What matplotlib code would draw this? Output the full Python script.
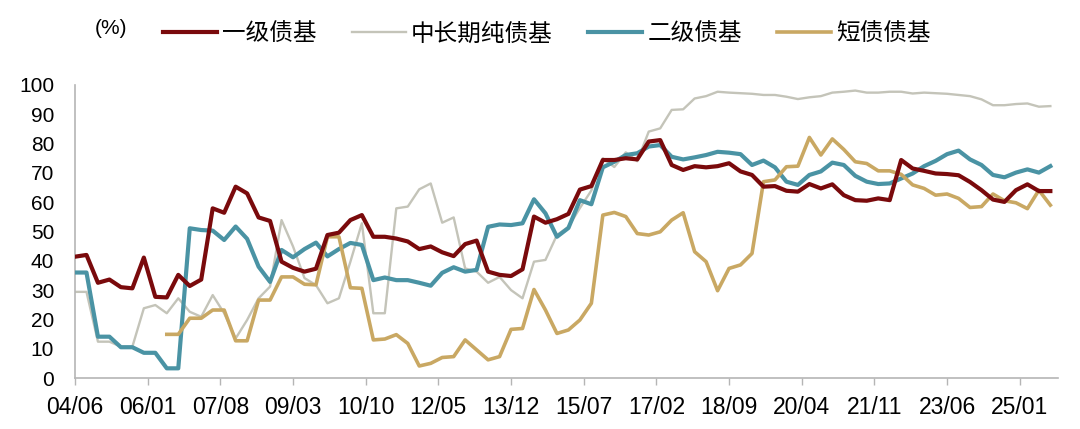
import matplotlib
matplotlib.use('Agg')
import matplotlib.pyplot as plt
import numpy as np

nan = np.nan

# quarterly observations, 2004/06 .. 2025/09 (months since 2004/06)
months = np.arange(0, 256, 3)

# 一级债基
primary = [41.4, 42, 32.5, 33.6, 31, 30.6, 41.1, 27.7, 27.5, 35.2,
           31.4, 33.6, 57.9, 56.4, 65.3, 63, 54.8, 53.6, 39.7, 37.6,
           36.3, 37.3, 48.8, 49.6, 53.9, 55.6, 48.2, 48.2, 47.6, 46.6,
           44, 44.9, 42.9, 41.6, 45.7, 46.9, 36.3, 35.2, 34.8, 37.1,
           55.1, 53, 54.2, 56, 64.3, 65.5, 74.4, 74.4, 75, 74.6,
           80.7, 81.2, 72.7, 71, 72.3, 71.9, 72.3, 73.3, 70.5, 69.3,
           65.3, 65.5, 63.9, 63.6, 66.2, 64.7, 66.1, 62.4, 60.7, 60.5,
           61.3, 60.7, 74.4, 71.5, 70.7, 69.8, 69.6, 69.2, 66.9, 64.1,
           60.9, 60.1, 64.1, 66.1, 63.8, 63.8]

# 中长期纯债基
mid_long = [29.4, 29.4, 12.4, 12.4, 10.7, 10.7, 23.8, 24.9, 22.1, 27.2,
            22.6, 20.9, 28.3, 22.1, 13.5, 19.8, 27.2, 31.2, 53.9, 44.9,
            34.1, 31.7, 25.5, 27.2, 39.7, 52.8, 22.1, 22.1, 57.9, 58.5,
            64.4, 66.4, 53, 54.8, 37.4, 36.3, 32.5, 34.5, 30, 27.2,
            39.7, 40.3, 48.8, 51.6, 58, 64, 75, 72, 77, 74,
            84.1, 85.2, 91.5, 91.7, 95.4, 96.2, 97.7, 97.4, 97.2, 97,
            96.6, 96.6, 96, 95.2, 95.8, 96.2, 97.4, 97.7, 98.1, 97.4,
            97.4, 97.7, 97.7, 97.1, 97.4, 97.2, 97, 96.6, 96.2, 95.1,
            93.1, 93.1, 93.5, 93.7, 92.6, 92.8]

# 二级债基
secondary = [36, 36, 14.1, 14.1, 10.5, 10.5, 8.6, 8.6, 3.3, 3.3,
             51.1, 50.5, 50.3, 47.1, 51.7, 47.5, 38, 32.8, 43.7, 41.2,
             44, 46.2, 41.5, 44, 46.1, 45.4, 33.4, 34.3, 33.4, 33.4,
             32.5, 31.5, 35.9, 37.8, 36.3, 36.9, 51.6, 52.4, 52.2, 52.8,
             61, 56.2, 48.2, 51.2, 60.7, 59.3, 71.9, 73.8, 76.1, 76.7,
             79, 79.5, 75.5, 74.6, 75.3, 76.1, 77.2, 76.9, 76.4, 72.7,
             74.2, 71.9, 67, 65.9, 69.3, 70.5, 73.5, 72.7, 69, 67,
             66.2, 66.4, 68.1, 69.8, 72.3, 74.1, 76.4, 77.6, 74.6, 72.7,
             69.3, 68.5, 70.1, 71.2, 70.1, 72.3]

# 短债债基
short = [nan, nan, nan, nan, nan, nan, nan, nan, 14.9, 14.9,
         20.4, 20.4, 23.2, 23.2, 12.7, 12.7, 26.6, 26.6, 34.5, 34.5,
         32, 31.8, 48.2, 48.2, 30.8, 30.6, 13, 13.3, 14.8, 11.8,
         4.1, 5, 7, 7.3, 13, 9.6, 6.2, 7.3, 16.6, 16.9,
         30.2, 23.2, 15.2, 16.4, 19.8, 25.5, 55.6, 56.5, 55.1, 49.3,
         48.8, 49.9, 53.9, 56.4, 43.1, 39.7, 29.8, 37.4, 38.6, 42.5,
         67, 67.6, 72.1, 72.3, 82.1, 76.1, 81.6, 78, 73.8, 73.2,
         70.7, 70.7, 69.5, 65.9, 64.7, 62.4, 62.8, 61.3, 58.2, 58.5,
         62.8, 60.5, 59.8, 57.8, 64.1, 59]

tick_months = np.arange(0, 248, 19)
tick_labels = ['04/06', '06/01', '07/08', '09/03', '10/10', '12/05', '13/12',
               '15/07', '17/02', '18/09', '20/04', '21/11', '23/06', '25/01']

fig = plt.figure(figsize=(10.8, 4.29), dpi=100)
ax = fig.add_axes([75 / 1080, 1 - 378 / 429, (1058 - 75) / 1080, (378 - 85) / 429])

ax.plot(months, primary, color='#7a0a0c', lw=3.0, label='一级债基', zorder=4)
ax.plot(months, mid_long, color='#c4c4b9', lw=1.7, label='中长期纯债基', zorder=2)
ax.plot(months, secondary, color='#4a93a4', lw=3.0, label='二级债基', zorder=3)
ax.plot(months, short, color='#c9a863', lw=2.6, label='短债债基', zorder=3)

ax.set_ylim(0, 100)
ax.set_xlim(0, 257)
ax.set_yticks(range(0, 101, 10))
ax.set_xticks(tick_months)
ax.set_xticklabels(tick_labels, family=['Liberation Sans Narrow', 'Liberation Sans'], fontsize=16.5)
for lab in ax.get_yticklabels():
    lab.set_family(['Liberation Sans', 'DejaVu Sans'])
    lab.set_fontsize(15)

for side in ['top', 'right']:
    ax.spines[side].set_visible(False)
for side in ['left', 'bottom']:
    ax.spines[side].set_color('#b5b5b5')
    ax.spines[side].set_linewidth(1.2)
ax.tick_params(axis='y', length=0, pad=15, colors='black')
ax.tick_params(axis='x', length=5, width=1, color='#b5b5b5', pad=8, labelcolor='black')

fig.text(95 / 1080, 1 - 28 / 429, '(%)', fontsize=15, va='center',
         family=['Liberation Sans', 'DejaVu Sans'])

fig.legend(loc='center left', bbox_to_anchor=(163 / 1080, 1 - 34 / 429), ncol=4,
           frameon=False, prop={'family': ['Noto Sans CJK SC'], 'size': 17},
           handlelength=2.3, handletextpad=0.2, columnspacing=1.5,
           borderaxespad=0, borderpad=0)

fig.savefig('out.png', dpi=100)
